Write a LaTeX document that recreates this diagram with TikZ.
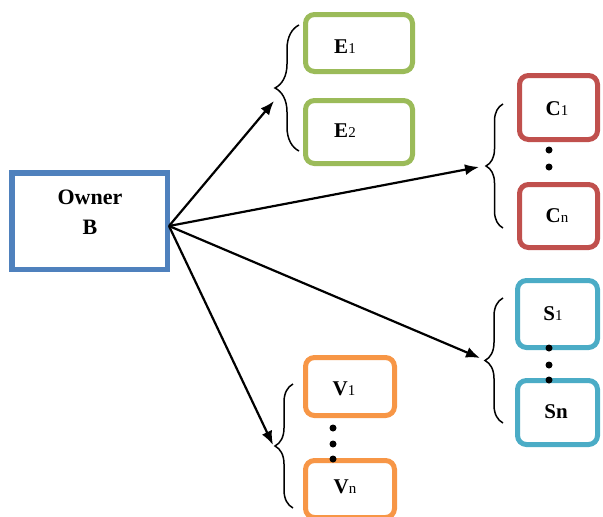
\documentclass[tikz,border=0pt]{standalone}
\usepackage{fontspec}
\setmainfont{Liberation Serif}
\usetikzlibrary{arrows.meta,decorations.pathreplacing}
\definecolor{ownblue}{HTML}{4F81BD}
\definecolor{egreen}{HTML}{9BBB59}
\definecolor{cred}{HTML}{C0504D}
\definecolor{scyan}{HTML}{4BACC6}
\definecolor{vorange}{HTML}{F79646}
\tikzset{
  box/.style={draw, line width=5pt, rounded corners=9pt, inner sep=0pt, fill=white},
  lbl/.style={inner sep=0pt, font=\fontsize{21}{24}\selectfont\bfseries},
  arr/.style={line width=2.2pt, -{Latex[length=14pt,width=11pt]}},
  brc/.style={line width=1.5pt, decorate},
  dot/.style={fill=black}
}
\newcommand{\sbs}[1]{{\fontsize{15}{15}\selectfont\mdseries #1}}
\begin{document}
\begin{tikzpicture}[x=1pt,y=-1pt]
\useasboundingbox (0,0) rectangle (603,517);
% boxes
\node[draw=ownblue, line width=5.5pt, inner sep=0pt, minimum width=155.5pt, minimum height=96.5pt] (owner) at (89.5,221) {};
\node[lbl, align=center, font=\fontsize{22}{30}\selectfont\bfseries] (ownert) at (90,212) {Owner\\B};

\node[box, draw=egreen, minimum width=107pt, minimum height=57pt] (e1) at (359,43) {};
\node[box, draw=egreen, minimum width=107pt, minimum height=63pt] (e2) at (359,132) {};
\node[box, draw=cred, minimum width=78pt, minimum height=64pt] (c1) at (558.5,107.5) {};
\node[box, draw=cred, minimum width=78pt, minimum height=63pt] (cn) at (558.5,216) {};
\node[box, draw=scyan, minimum width=80pt, minimum height=67pt] (s1) at (557.5,314) {};
\node[box, draw=scyan, minimum width=80pt, minimum height=64pt] (sn) at (557.5,412.5) {};
\node[box, draw=vorange, minimum width=89pt, minimum height=58pt] (v1) at (350,386.5) {};
\node[box, draw=vorange, minimum width=89pt, minimum height=57pt] (vn) at (350,489) {};

% labels
\node[lbl] (e1t) at (345,47) {E\sbs{1}};
\node[lbl] (e2t) at (345,131) {E\sbs{2}};
\node[lbl] (c1t) at (557,109) {C\sbs{1}};
\node[lbl] (cnt) at (557,216) {C\sbs{n}};
\node[lbl] (s1t) at (553,314) {S\sbs{1}};
\node[lbl] (snt) at (556,412) {Sn};
\node[lbl] (v1t) at (344,389) {V\sbs{1}};
\node[lbl] (vnt) at (345,487) {V\sbs{n}};

% dots
\fill[dot] (549,150) circle (3.5pt);
\fill[dot] (549,167) circle (3.5pt);
\fill[dot] (549,348) circle (3.5pt);
\fill[dot] (549,365) circle (3.5pt);
\fill[dot] (549,380) circle (3.5pt);
\fill[dot] (333,428) circle (3.5pt);
\fill[dot] (333,444) circle (3.5pt);
\fill[dot] (333,459) circle (3.5pt);

% braces
\draw[brc, decoration={brace, amplitude=24pt}] (299,151) -- (299,25);
\draw[brc, decoration={brace, amplitude=17pt}] (503,228) -- (503,104);
\draw[brc, decoration={brace, amplitude=18pt}] (503,423) -- (503,298);
\draw[brc, decoration={brace, amplitude=18pt}] (293,508) -- (293,384);

% connectors
\coordinate (src) at (169,226);
\coordinate (etip) at (274,101);
\coordinate (ctip) at (479,167);
\coordinate (stip) at (480,358);
\coordinate (vtip) at (273,445);
\draw[arr] (src) -- (etip);
\draw[arr] (src) -- (ctip);
\draw[arr] (src) -- (stip);
\draw[arr] (src) -- (vtip);
\end{tikzpicture}
\end{document}
